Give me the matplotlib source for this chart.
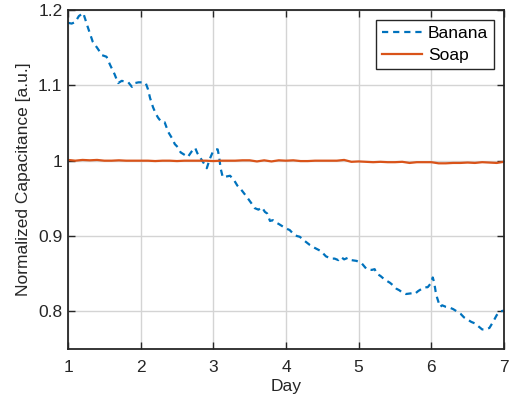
import matplotlib
matplotlib.use('Agg')
import matplotlib.pyplot as plt
import numpy as np

plt.rcParams['font.family'] = ['Liberation Sans', 'DejaVu Sans']

# banana
banana_day = [1.00, 1.05, 1.10, 1.15, 1.21, 1.27, 1.34, 1.40, 1.47, 1.53, 1.58, 1.64, 1.69, 1.74,
              1.78, 1.83, 1.88, 1.92, 1.97, 2.02, 2.07, 2.10, 2.13, 2.17, 2.21, 2.24, 2.28, 2.33,
              2.38, 2.43, 2.47, 2.51, 2.55, 2.60, 2.65, 2.70, 2.75, 2.78, 2.82, 2.86, 2.91, 2.95,
              2.99, 3.03, 3.06, 3.08, 3.10, 3.13, 3.18, 3.23, 3.28, 3.33, 3.38, 3.42, 3.46, 3.52,
              3.57, 3.62, 3.67, 3.71, 3.74, 3.78, 3.82, 3.86, 3.90, 3.95, 4.00, 4.05, 4.10, 4.15,
              4.19, 4.25, 4.33, 4.40, 4.48, 4.55, 4.62, 4.67, 4.72, 4.76, 4.80, 4.85, 4.90, 4.97,
              5.04, 5.11, 5.18, 5.22, 5.25, 5.30, 5.36, 5.43, 5.48, 5.52, 5.56, 5.60, 5.65, 5.73,
              5.77, 5.82, 5.87, 5.91, 5.95, 6.00, 6.02, 6.04, 6.06, 6.08, 6.12, 6.15, 6.20, 6.25,
              6.30, 6.35, 6.40, 6.45, 6.50, 6.55, 6.60, 6.65, 6.70, 6.75, 6.80, 6.85, 6.90, 6.95,
              7.00]
banana_cap = [1.183, 1.182, 1.184, 1.192, 1.196, 1.178, 1.158, 1.150, 1.140, 1.138, 1.127, 1.115,
              1.103, 1.106, 1.105, 1.104, 1.098, 1.103, 1.104, 1.104, 1.103, 1.095, 1.083, 1.071,
              1.062, 1.057, 1.052, 1.051, 1.038, 1.030, 1.022, 1.018, 1.011, 1.008, 1.005, 1.012,
              1.017, 1.010, 1.004, 0.998, 0.990, 1.002, 1.011, 1.015, 1.015, 1.005, 0.990, 0.978,
              0.979, 0.980, 0.975, 0.967, 0.962, 0.957, 0.952, 0.944, 0.937, 0.935, 0.938, 0.932,
              0.930, 0.920, 0.921, 0.918, 0.916, 0.913, 0.910, 0.908, 0.903, 0.900, 0.899, 0.894,
              0.888, 0.884, 0.880, 0.873, 0.870, 0.870, 0.868, 0.872, 0.869, 0.871, 0.868, 0.867,
              0.864, 0.856, 0.855, 0.856, 0.850, 0.847, 0.842, 0.838, 0.834, 0.830, 0.828, 0.825,
              0.823, 0.824, 0.823, 0.827, 0.830, 0.832, 0.832, 0.838, 0.845, 0.838, 0.826, 0.818,
              0.806, 0.808, 0.806, 0.805, 0.803, 0.800, 0.797, 0.792, 0.789, 0.786, 0.784, 0.780,
              0.776, 0.776, 0.778, 0.786, 0.795, 0.800, 0.801]

# soap: sampled every 0.1 day
soap_day = [round(1 + 0.1 * i, 1) for i in range(61)]
soap_cap = [1.001, 1.000, 1.001, 1.0005, 1.001, 1.000, 1.000, 1.0005, 1.000, 1.000,
            1.000, 1.000, 0.9995, 1.000, 1.000, 0.9995, 1.000, 1.000, 1.000, 1.000,
            0.9995, 1.000, 1.000, 1.000, 1.0005, 1.0005, 0.999, 1.0005, 0.999, 1.0005,
            1.000, 1.0005, 0.9995, 0.9995, 1.000, 1.000, 1.000, 1.000, 1.001, 0.9985,
            0.999, 0.9985, 0.998, 0.9985, 0.998, 0.998, 0.9985, 0.997, 0.998, 0.998,
            0.998, 0.9965, 0.9965, 0.997, 0.997, 0.9975, 0.997, 0.998, 0.9975, 0.997,
            0.9985]

fig = plt.figure(figsize=(5.14, 4.04), dpi=100)
ax = fig.add_axes([0.1323, 0.1361, 0.8482, 0.8391])

ax.plot(banana_day, banana_cap, color='#0072BD', lw=1.6, dashes=(2.8, 2.2), label='Banana')
ax.plot(soap_day, soap_cap, '-', color='#D95319', lw=1.6, label='Soap')

ax.set_xlim(1, 7)
ax.set_ylim(0.75, 1.2)
ax.set_xticks(np.arange(1, 8))
ax.set_yticks([0.8, 0.9, 1.0, 1.1, 1.2])
ax.set_yticklabels(['0.8', '0.9', '1', '1.1', '1.2'])
ax.grid(True, color='#d4d4d4', lw=1.0)
ax.set_axisbelow(True)
ax.tick_params(direction='in', length=5, width=1.0, labelsize=12.5, colors='#262626',
               top=True, right=True)
ax.tick_params(axis='x', pad=8)
ax.tick_params(axis='y', pad=4)
for sp in ax.spines.values():
    sp.set_linewidth(1.3)
    sp.set_color('#262626')

ax.set_xlabel('Day', fontsize=12.5, color='#262626', labelpad=3)
ax.set_ylabel('Normalized Capacitance [a.u.]', fontsize=12.5, color='#262626', labelpad=5)

leg = ax.legend(loc='upper right', fontsize=12.5, fancybox=False, framealpha=1,
                edgecolor='#262626', handlelength=2.3, borderpad=0.35, labelspacing=0.4,
                handletextpad=0.35, borderaxespad=0.55)
leg.get_frame().set_linewidth(1.0)

fig.savefig('out.png', dpi=100)
